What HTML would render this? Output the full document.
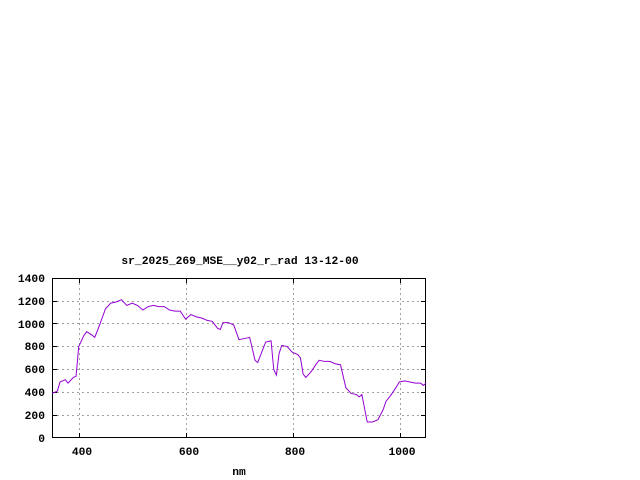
<!DOCTYPE html>
<html><head><style>
body{margin:0;background:#fff;}
svg{display:block;}
text{font-family:"Liberation Mono",monospace;font-size:11.3px;font-weight:bold;fill:#000;}
</style></head><body>
<svg width="640" height="480" viewBox="0 0 640 480">
<rect width="640" height="480" fill="#fff"/>
<g stroke="#a0a0a0" stroke-width="1" stroke-dasharray="2,3" fill="none">
<line x1="52" y1="415.5" x2="426" y2="415.5"/>
<line x1="52" y1="392.5" x2="426" y2="392.5"/>
<line x1="52" y1="369.5" x2="426" y2="369.5"/>
<line x1="52" y1="346.5" x2="426" y2="346.5"/>
<line x1="52" y1="323.5" x2="426" y2="323.5"/>
<line x1="52" y1="301.5" x2="426" y2="301.5"/>
<line x1="79.5" y1="278" x2="79.5" y2="438"/>
<line x1="186.5" y1="278" x2="186.5" y2="438"/>
<line x1="293.5" y1="278" x2="293.5" y2="438"/>
<line x1="400.5" y1="278" x2="400.5" y2="438"/>
</g>
<g stroke="#000" stroke-width="1">
<path d="M52,415.5h5M52,392.5h5M52,369.5h5M52,346.5h5M52,323.5h5M52,301.5h5M426,415.5h-5M426,392.5h-5M426,369.5h-5M426,346.5h-5M426,323.5h-5M426,301.5h-5M79.5,438v-5M186.5,438v-5M293.5,438v-5M400.5,438v-5M79.5,278v5M186.5,278v5M293.5,278v5M400.5,278v5"/>
</g>
<rect x="52.5" y="278.5" width="373" height="159" fill="none" stroke="#000" stroke-width="1"/>
<g transform="translate(52,438) scale(0.53429,-0.114286) translate(-350,0)">
<polyline fill="none" stroke="#9400d3" stroke-width="1" vector-effect="non-scaling-stroke" points="350,390 360,410 365,490 375,510 380,480 390,530 395,540 400,800 410,900 415,930 425,900 430,880 440,1000 450,1130 460,1180 470,1190 480,1210 490,1160 500,1180 510,1160 520,1120 530,1150 540,1160 550,1150 560,1150 570,1120 580,1110 590,1110 600,1040 610,1080 620,1060 630,1050 640,1030 650,1020 660,960 665,950 670,1010 680,1010 690,990 700,860 710,870 720,880 730,680 735,660 740,720 750,840 760,850 765,600 770,550 775,740 780,810 790,800 800,750 810,730 815,700 820,560 825,530 835,580 845,650 850,680 860,670 870,670 880,650 890,640 900,440 910,390 920,380 925,360 930,380 935,260 940,140 950,140 960,160 970,250 975,320 985,380 995,450 1000,490 1010,500 1020,490 1030,480 1040,480 1045,460 1050,480"/>
</g>
<g text-anchor="end">
<text x="45" y="442">0</text>
<text x="45" y="419">200</text>
<text x="45" y="396">400</text>
<text x="45" y="373">600</text>
<text x="45" y="350">800</text>
<text x="45" y="328">1000</text>
<text x="45" y="305">1200</text>
<text x="45" y="282">1400</text>
</g>
<g text-anchor="middle">
<text x="82" y="455">400</text>
<text x="189" y="455">600</text>
<text x="295" y="455">800</text>
<text x="402" y="455">1000</text>
<text x="239" y="475">nm</text>
<text x="240" y="264">sr_2025_269_MSE__y02_r_rad 13-12-00</text>
</g>
</svg>
</body></html>
